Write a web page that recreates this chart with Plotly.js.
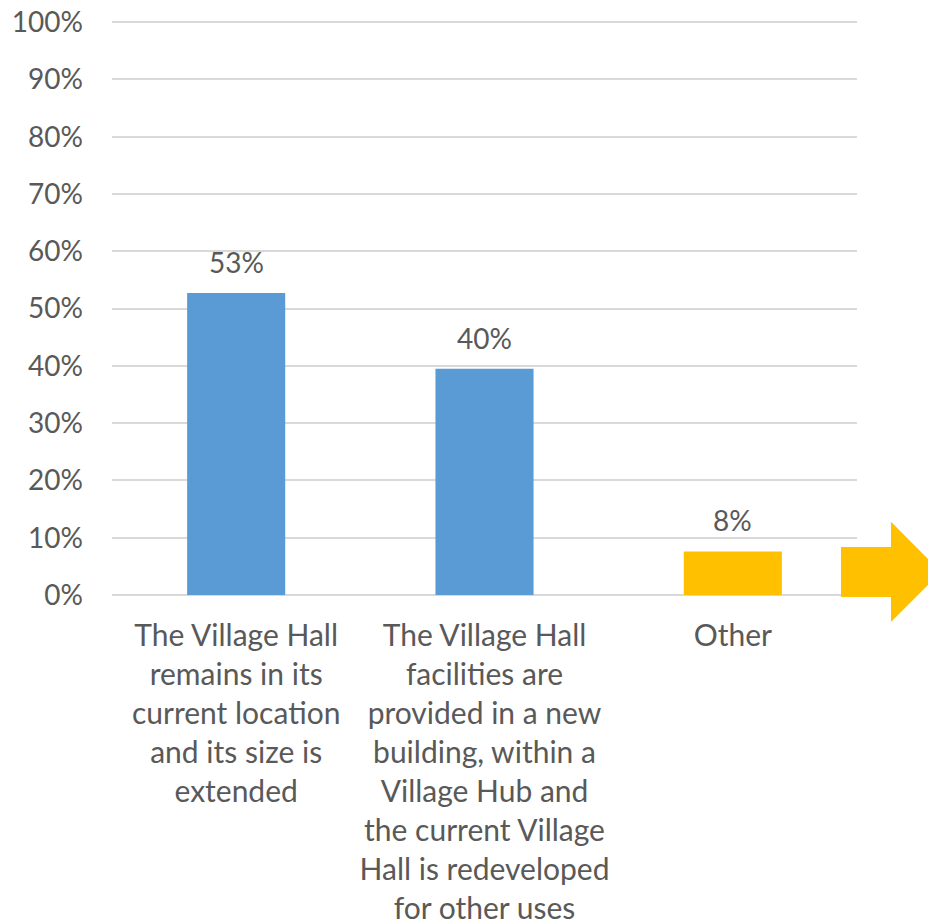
<!DOCTYPE html>
<html>
<head>
<meta charset="utf-8">
<script src="https://cdn.plot.ly/plotly-3.0.1.min.js"></script>
<style>html,body{margin:0;padding:0;background:#fff;}#chart{width:928px;height:922px;}</style>
</head>
<body>
<div id="chart"></div>
<script>
const categories = [
  "The Village Hall<br>remains in its<br>current location<br>and its size is<br>extended",
  "The Village Hall<br>facilities are<br>provided in a new<br>building, within a<br>Village Hub and<br>the current Village<br>Hall is redeveloped<br>for other uses",
  "Other"
];
const values = [0.527, 0.395, 0.076];
const barColors = ["#5B9BD5", "#5B9BD5", "#FFC000"];
const yTickVals = [0, 0.1, 0.2, 0.3, 0.4, 0.5, 0.6, 0.7, 0.8, 0.9, 1.0];
const yTickText = ["0%", "10%", "20%", "30%", "40%", "50%", "60%", "70%", "80%", "90%", "100%"];

const textColor = "#595959";
const fontFam = "Lato, 'Open Sans', sans-serif";

const trace = {
  type: "bar",
  x: [0, 1, 2],
  y: values,
  marker: { color: barColors },
  hoverinfo: "none"
};

const annotations = values.map((v, i) => ({
  x: i, y: v, xref: "x", yref: "y",
  text: Math.round(v * 100) + "%",
  showarrow: false,
  yanchor: "bottom",
  yshift: 12,
  font: { family: fontFam, size: 28, color: textColor }
}));

const layout = {
  width: 928, height: 922,
  margin: { l: 112, r: 71, t: 21, b: 327 },
  paper_bgcolor: "#fff", plot_bgcolor: "#fff",
  showlegend: false,
  bargap: 0.605,
  font: { family: fontFam, size: 28, color: textColor },
  xaxis: {
    range: [-0.5, 2.5],
    tickvals: [0, 1, 2],
    ticktext: categories,
    showgrid: false, zeroline: false, showline: false,
    ticks: "", ticklabelstandoff: 20,
    tickfont: { family: fontFam, size: 30, color: textColor },
    fixedrange: true
  },
  yaxis: {
    range: [0, 1.002],
    tickvals: yTickVals, ticktext: yTickText,
    showgrid: true, gridcolor: "#D9D9D9", gridwidth: 2,
    zeroline: true, zerolinecolor: "#D9D9D9", zerolinewidth: 2,
    showline: false, ticks: "", ticklabelstandoff: 28,
    tickfont: { family: fontFam, size: 28, color: textColor },
    fixedrange: true
  },
  annotations: annotations,
  shapes: [{
    type: "path", xref: "paper", yref: "paper",
    path: "M 0.9785 0.0838 L 1.0456 0.0838 L 1.0456 0.1274 L 1.1128 0.0401 L 1.0456 -0.0471 L 1.0456 -0.0035 L 0.9785 -0.0035 Z",
    fillcolor: "#FFC000", line: { width: 0 }, layer: "above"
  }]
};

Plotly.newPlot("chart", [trace], layout, { staticPlot: true, displayModeBar: false });
</script>
</body>
</html>
